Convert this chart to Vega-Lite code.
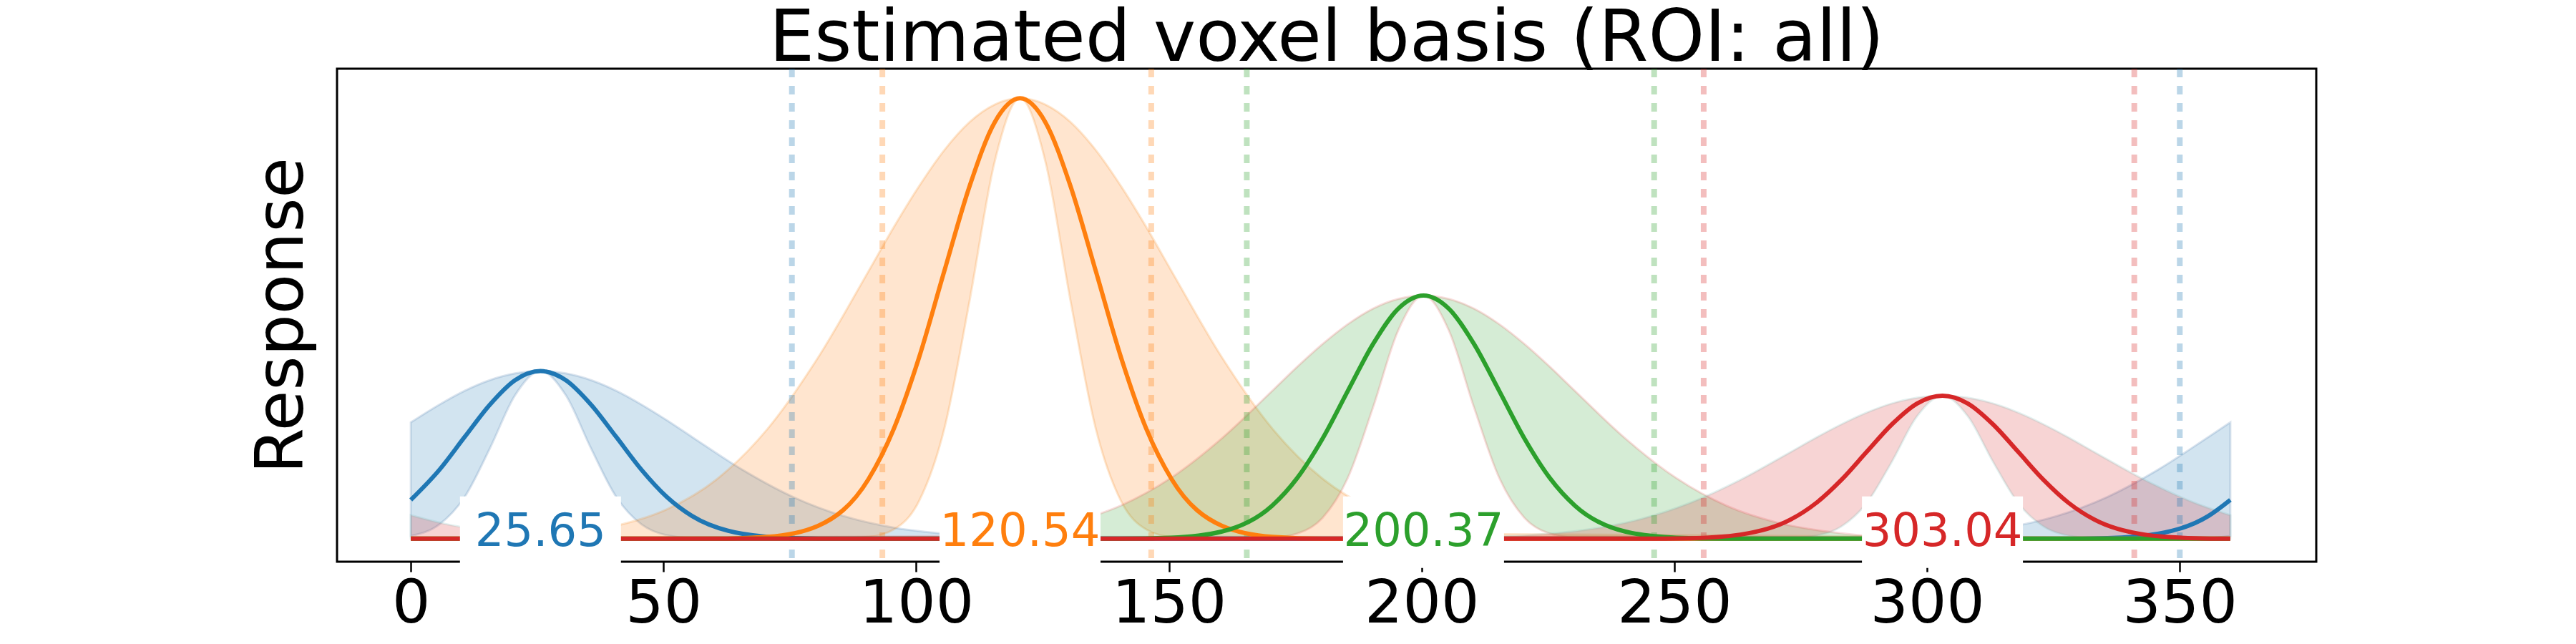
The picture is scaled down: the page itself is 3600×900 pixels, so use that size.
{
  "$schema": "https://vega.github.io/schema/vega-lite/v6.json",
  "width": 2766,
  "height": 689,
  "autosize": "none",
  "padding": {"left": 471, "top": 96, "right": 363, "bottom": 115},
  "background": "white",
  "title": {"text": "Estimated voxel basis (ROI: all)", "fontSize": 100, "font": "DejaVu Sans", "fontWeight": "normal", "color": "black", "offset": -14, "anchor": "middle"},
  "config": {"view": {"stroke": "black", "strokeWidth": 3}},
  "datasets": {
    "curves": [
      {"c": "a", "x": 0, "y": 23.6, "lo": 1.7, "hi": 70.8},
      {"c": "a", "x": 5.65, "y": 41.9, "lo": 8.7, "hi": 81.6},
      {"c": "a", "x": 10.65, "y": 61.9, "lo": 25.4, "hi": 90},
      {"c": "a", "x": 15.65, "y": 81.6, "lo": 55, "hi": 96.5},
      {"c": "a", "x": 20.65, "y": 96.5, "lo": 87.4, "hi": 100.6},
      {"c": "a", "x": 25.65, "y": 102, "lo": 102, "hi": 102},
      {"c": "a", "x": 30.65, "y": 96.5, "lo": 87.4, "hi": 100.6},
      {"c": "a", "x": 35.65, "y": 81.6, "lo": 55, "hi": 96.5},
      {"c": "a", "x": 40.65, "y": 61.9, "lo": 25.4, "hi": 90},
      {"c": "a", "x": 45.65, "y": 41.9, "lo": 8.7, "hi": 81.6},
      {"c": "a", "x": 50.65, "y": 25.4, "lo": 2.1, "hi": 72.1},
      {"c": "a", "x": 55.65, "y": 13.8, "lo": 0.4, "hi": 61.9},
      {"c": "a", "x": 65.65, "y": 3, "lo": 0, "hi": 41.9},
      {"c": "a", "x": 75.65, "y": 0.4, "lo": 0, "hi": 25.4},
      {"c": "a", "x": 85.65, "y": 0, "lo": 0, "hi": 13.8},
      {"c": "a", "x": 95.65, "y": 0, "lo": 0, "hi": 6.7},
      {"c": "a", "x": 105.65, "y": 0, "lo": 0, "hi": 3},
      {"c": "a", "x": 115.65, "y": 0, "lo": 0, "hi": 1.1},
      {"c": "a", "x": 295.65, "y": 0, "lo": 0, "hi": 1.1},
      {"c": "a", "x": 305.65, "y": 0, "lo": 0, "hi": 3},
      {"c": "a", "x": 315.65, "y": 0, "lo": 0, "hi": 6.7},
      {"c": "a", "x": 325.65, "y": 0, "lo": 0, "hi": 13.8},
      {"c": "a", "x": 335.65, "y": 0.4, "lo": 0, "hi": 25.4},
      {"c": "a", "x": 345.65, "y": 3, "lo": 0, "hi": 41.9},
      {"c": "a", "x": 355.65, "y": 13.8, "lo": 0.4, "hi": 61.9},
      {"c": "a", "x": 360, "y": 23.6, "lo": 1.7, "hi": 70.8},

      {"c": "b", "x": 0, "y": 0, "lo": 0, "hi": 0},
      {"c": "b", "x": 30.54, "y": 0, "lo": 0, "hi": 2.9},
      {"c": "b", "x": 40.54, "y": 0, "lo": 0, "hi": 7.8},
      {"c": "b", "x": 50.54, "y": 0, "lo": 0, "hi": 17.7},
      {"c": "b", "x": 60.54, "y": 0, "lo": 0, "hi": 36.2},
      {"c": "b", "x": 70.54, "y": 1.1, "lo": 0, "hi": 66.7},
      {"c": "b", "x": 80.54, "y": 7.8, "lo": 0, "hi": 110.1},
      {"c": "b", "x": 90.54, "y": 36.2, "lo": 1.1, "hi": 162.7},
      {"c": "b", "x": 95.54, "y": 66.7, "lo": 5.6, "hi": 189.5},
      {"c": "b", "x": 100.54, "y": 110.1, "lo": 22.8, "hi": 214.4},
      {"c": "b", "x": 105.54, "y": 162.7, "lo": 66.7, "hi": 236.4},
      {"c": "b", "x": 110.54, "y": 214.4, "lo": 144.5, "hi": 253.5},
      {"c": "b", "x": 115.54, "y": 253.5, "lo": 229.7, "hi": 264.2},
      {"c": "b", "x": 120.54, "y": 268, "lo": 268, "hi": 268},
      {"c": "b", "x": 125.54, "y": 253.5, "lo": 229.7, "hi": 264.2},
      {"c": "b", "x": 130.54, "y": 214.4, "lo": 144.5, "hi": 253.5},
      {"c": "b", "x": 135.54, "y": 162.7, "lo": 66.7, "hi": 236.4},
      {"c": "b", "x": 140.54, "y": 110.1, "lo": 22.8, "hi": 214.4},
      {"c": "b", "x": 145.54, "y": 66.7, "lo": 5.6, "hi": 189.5},
      {"c": "b", "x": 150.54, "y": 36.2, "lo": 1.1, "hi": 162.7},
      {"c": "b", "x": 160.54, "y": 7.8, "lo": 0, "hi": 110.1},
      {"c": "b", "x": 170.54, "y": 1.1, "lo": 0, "hi": 66.7},
      {"c": "b", "x": 180.54, "y": 0, "lo": 0, "hi": 36.2},
      {"c": "b", "x": 190.54, "y": 0, "lo": 0, "hi": 17.7},
      {"c": "b", "x": 200.54, "y": 0, "lo": 0, "hi": 7.8},
      {"c": "b", "x": 210.54, "y": 0, "lo": 0, "hi": 2.9},
      {"c": "b", "x": 360, "y": 0, "lo": 0, "hi": 0},

      {"c": "c", "x": 0, "y": 0, "lo": 0, "hi": 0},
      {"c": "c", "x": 110.37, "y": 0, "lo": 0, "hi": 1.6},
      {"c": "c", "x": 120.37, "y": 0, "lo": 0, "hi": 4.3},
      {"c": "c", "x": 130.37, "y": 0, "lo": 0, "hi": 9.8},
      {"c": "c", "x": 140.37, "y": 0, "lo": 0, "hi": 20},
      {"c": "c", "x": 150.37, "y": 0.6, "lo": 0, "hi": 36.9},
      {"c": "c", "x": 160.37, "y": 4.3, "lo": 0, "hi": 60.8},
      {"c": "c", "x": 170.37, "y": 20, "lo": 0.6, "hi": 89.8},
      {"c": "c", "x": 175.37, "y": 36.9, "lo": 3.1, "hi": 104.6},
      {"c": "c", "x": 180.37, "y": 60.8, "lo": 12.6, "hi": 118.4},
      {"c": "c", "x": 185.37, "y": 89.8, "lo": 36.9, "hi": 130.5},
      {"c": "c", "x": 190.37, "y": 118.4, "lo": 79.8, "hi": 140},
      {"c": "c", "x": 195.37, "y": 140, "lo": 126.8, "hi": 145.9},
      {"c": "c", "x": 200.37, "y": 148, "lo": 148, "hi": 148},
      {"c": "c", "x": 205.37, "y": 140, "lo": 126.8, "hi": 145.9},
      {"c": "c", "x": 210.37, "y": 118.4, "lo": 79.8, "hi": 140},
      {"c": "c", "x": 215.37, "y": 89.8, "lo": 36.9, "hi": 130.5},
      {"c": "c", "x": 220.37, "y": 60.8, "lo": 12.6, "hi": 118.4},
      {"c": "c", "x": 225.37, "y": 36.9, "lo": 3.1, "hi": 104.6},
      {"c": "c", "x": 230.37, "y": 20, "lo": 0.6, "hi": 89.8},
      {"c": "c", "x": 240.37, "y": 4.3, "lo": 0, "hi": 60.8},
      {"c": "c", "x": 250.37, "y": 0.6, "lo": 0, "hi": 36.9},
      {"c": "c", "x": 260.37, "y": 0, "lo": 0, "hi": 20},
      {"c": "c", "x": 270.37, "y": 0, "lo": 0, "hi": 9.8},
      {"c": "c", "x": 280.37, "y": 0, "lo": 0, "hi": 4.3},
      {"c": "c", "x": 290.37, "y": 0, "lo": 0, "hi": 1.6},
      {"c": "c", "x": 360, "y": 0, "lo": 0, "hi": 0},

      {"c": "d", "x": 0, "y": 0, "lo": 0, "hi": 14.3},
      {"c": "d", "x": 6.96, "y": 0, "lo": 0, "hi": 8.9},
      {"c": "d", "x": 16.96, "y": 0, "lo": 0, "hi": 4.2},
      {"c": "d", "x": 26.96, "y": 0, "lo": 0, "hi": 1.7},
      {"c": "d", "x": 36.96, "y": 0, "lo": 0, "hi": 0.6},
      {"c": "d", "x": 46.96, "y": 0, "lo": 0, "hi": 0},
      {"c": "d", "x": 213.04, "y": 0, "lo": 0, "hi": 1},
      {"c": "d", "x": 223.04, "y": 0, "lo": 0, "hi": 2.5},
      {"c": "d", "x": 233.04, "y": 0, "lo": 0, "hi": 5.7},
      {"c": "d", "x": 243.04, "y": 0, "lo": 0, "hi": 11.7},
      {"c": "d", "x": 253.04, "y": 0.3, "lo": 0, "hi": 21.7},
      {"c": "d", "x": 263.04, "y": 2.5, "lo": 0, "hi": 35.8},
      {"c": "d", "x": 273.04, "y": 11.7, "lo": 0.3, "hi": 52.8},
      {"c": "d", "x": 278.04, "y": 21.7, "lo": 1.8, "hi": 61.5},
      {"c": "d", "x": 283.04, "y": 35.8, "lo": 7.4, "hi": 69.6},
      {"c": "d", "x": 288.04, "y": 52.8, "lo": 21.7, "hi": 76.7},
      {"c": "d", "x": 293.04, "y": 69.6, "lo": 46.9, "hi": 82.3},
      {"c": "d", "x": 298.04, "y": 82.3, "lo": 74.6, "hi": 85.8},
      {"c": "d", "x": 303.04, "y": 87, "lo": 87, "hi": 87},
      {"c": "d", "x": 308.04, "y": 82.3, "lo": 74.6, "hi": 85.8},
      {"c": "d", "x": 313.04, "y": 69.6, "lo": 46.9, "hi": 82.3},
      {"c": "d", "x": 318.04, "y": 52.8, "lo": 21.7, "hi": 76.7},
      {"c": "d", "x": 323.04, "y": 35.8, "lo": 7.4, "hi": 69.6},
      {"c": "d", "x": 328.04, "y": 21.7, "lo": 1.8, "hi": 61.5},
      {"c": "d", "x": 333.04, "y": 11.7, "lo": 0.3, "hi": 52.8},
      {"c": "d", "x": 343.04, "y": 2.5, "lo": 0, "hi": 35.8},
      {"c": "d", "x": 353.04, "y": 0.3, "lo": 0, "hi": 21.7},
      {"c": "d", "x": 360, "y": 0, "lo": 0, "hi": 14.3}
    ],
    "rules": [
      {"c": "a", "x": 75.4},
      {"c": "a", "x": 350},
      {"c": "b", "x": 93.3},
      {"c": "b", "x": 146.5},
      {"c": "c", "x": 165.4},
      {"c": "c", "x": 246},
      {"c": "d", "x": 255.8},
      {"c": "d", "x": 341}
    ],
    "labels": [
      {"c": "a", "x": 25.65, "y": 4, "label": "25.65"},
      {"c": "b", "x": 120.54, "y": 4, "label": "120.54"},
      {"c": "c", "x": 200.37, "y": 4, "label": "200.37"},
      {"c": "d", "x": 303.04, "y": 4, "label": "303.04"}
    ]
  },
  "encoding": {
    "x": {"field": "x", "type": "quantitative", "scale": {"domain": [-14.6, 377], "nice": false, "zero": false},
      "axis": {"values": [0, 50, 100, 150, 200, 250, 300, 350], "title": null, "grid": false, "domain": false, "tickColor": "black", "tickWidth": 2.5, "tickSize": 14, "labelFontSize": 84, "labelFont": "DejaVu Sans", "labelColor": "black", "labelPadding": 4}},
    "color": {"field": "c", "type": "nominal", "scale": {"domain": ["a", "b", "c", "d"], "range": ["#1f77b4", "#ff7f0e", "#2ca02c", "#d62728"]}, "legend": null}
  },
  "layer": [
    {
      "data": {"name": "curves"},
      "mark": {"type": "area", "interpolate": "monotone", "fillOpacity": 0.2, "strokeOpacity": 0.2, "strokeWidth": 3},
      "encoding": {
        "y": {"field": "hi", "type": "quantitative", "scale": {"domain": [-14, 286], "nice": false, "zero": false},
          "axis": {"title": "Response", "titleFontSize": 92, "titleFont": "DejaVu Sans", "titleFontWeight": "normal", "titleColor": "black", "labels": false, "ticks": false, "domain": false, "grid": false, "titlePadding": 30}},
        "y2": {"field": "lo"},
        "stroke": {"field": "c", "type": "nominal", "legend": null}
      }
    },
    {
      "data": {"name": "rules"},
      "mark": {"type": "rule", "strokeWidth": 8, "strokeDash": [12, 12], "opacity": 0.3},
      "encoding": {}
    },
    {
      "data": {"name": "curves"},
      "mark": {"type": "line", "interpolate": "monotone", "strokeWidth": 6},
      "encoding": {"y": {"field": "y", "type": "quantitative"}}
    },
    {
      "data": {"name": "labels"},
      "mark": {"type": "point", "shape": "M-2.25,-1H2.25V1H-2.25Z", "size": 10000, "filled": true, "fill": "white", "opacity": 1, "clip": false},
      "encoding": {"y": {"field": "y", "type": "quantitative"}, "color": {"value": "white"}}
    },
    {
      "data": {"name": "labels"},
      "mark": {"type": "text", "fontSize": 64, "font": "DejaVu Sans", "baseline": "middle", "dy": 0},
      "encoding": {"y": {"field": "y", "type": "quantitative"}, "text": {"field": "label"}}
    }
  ]
}
